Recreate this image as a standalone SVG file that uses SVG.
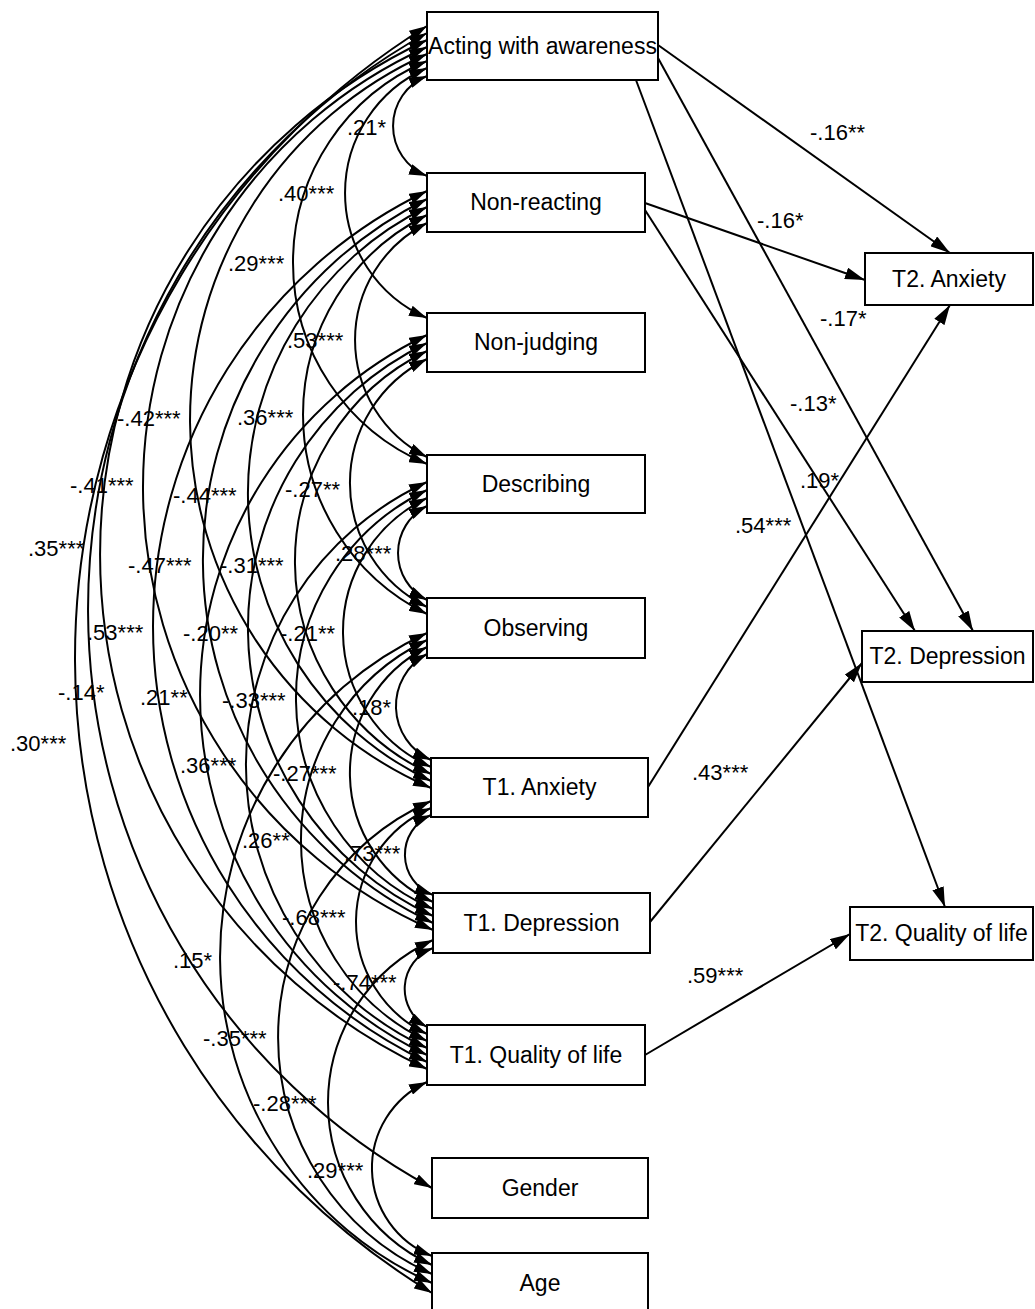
<svg xmlns="http://www.w3.org/2000/svg" width="1035" height="1309" viewBox="0 0 1035 1309">
<style>
.box{fill:#fff;stroke:#000;stroke-width:2}
.nt{font-family:"Liberation Sans",Arial,sans-serif;font-size:23px;text-anchor:middle;fill:#000}
.lb{font-family:"Liberation Sans",Arial,sans-serif;font-size:22px;fill:#000}
.c{fill:none;stroke:#000;stroke-width:2;marker-start:url(#ah);marker-end:url(#ah)}
.p{fill:none;stroke:#000;stroke-width:2;marker-end:url(#ap)}
</style>
<defs>
<marker id="ah" viewBox="0 0 18 11" refX="18" refY="5.5" markerWidth="18" markerHeight="11" markerUnits="userSpaceOnUse" orient="auto-start-reverse">
<path d="M0,0 L18,5.5 L0,11 z" fill="#000"/>
</marker>
<marker id="ap" viewBox="0 0 20 12" refX="20" refY="6" markerWidth="20" markerHeight="12" markerUnits="userSpaceOnUse" orient="auto">
<path d="M0,0 L20,6 L0,12 z" fill="#000"/>
</marker>
</defs>
<rect width="1035" height="1309" fill="#fff"/>
<g id="connectors">
<path class="c" d="M427 76 A53.8 53.8 0 0 0 427 176"/>
<path class="c" d="M427 68 A136.3 136.3 0 0 0 427 318"/>
<path class="c" d="M427 61 A218.5 218.5 0 0 0 427 464"/>
<path class="c" d="M427 54 A401.3 401.3 0 0 0 431 788"/>
<path class="c" d="M427 47 A483.1 483.1 0 0 0 433 930"/>
<path class="c" d="M427 40 A568.3 568.3 0 0 0 427 1069"/>
<path class="c" d="M427 33 A659.1 659.1 0 0 0 432 1188"/>
<path class="c" d="M427 26 A743.3 743.3 0 0 0 432 1293"/>
<path class="c" d="M427 223 A131.1 131.1 0 0 0 427 457"/>
<path class="c" d="M427 215 A222.5 222.5 0 0 0 427 614"/>
<path class="c" d="M427 207 A318 318 0 0 0 431 781"/>
<path class="c" d="M427 199 A402.1 402.1 0 0 0 433 923"/>
<path class="c" d="M427 191 A483.1 483.1 0 0 0 427 1062"/>
<path class="c" d="M427 359 A138.3 138.3 0 0 0 427 607"/>
<path class="c" d="M427 351 A233.9 233.9 0 0 0 431 774"/>
<path class="c" d="M427 343 A316.5 316.5 0 0 0 433 916"/>
<path class="c" d="M427 335 A399 399 0 0 0 427 1055"/>
<path class="c" d="M427 506 A52.6 52.6 0 0 0 427 600"/>
<path class="c" d="M427 498 A148.2 148.2 0 0 0 431 767"/>
<path class="c" d="M427 490 A230.8 230.8 0 0 0 433 909"/>
<path class="c" d="M427 482 A311.7 311.7 0 0 0 427 1048"/>
<path class="c" d="M427 654 A59.1 59.1 0 0 0 431 760"/>
<path class="c" d="M427 647 A141.6 141.6 0 0 0 433 902"/>
<path class="c" d="M427 640 A222.5 222.5 0 0 0 427 1041"/>
<path class="c" d="M427 633 A356.9 356.9 0 0 0 432 1283"/>
<path class="c" d="M431 815 A43.1 43.1 0 0 0 433 895"/>
<path class="c" d="M431 808 A124 124 0 0 0 427 1034"/>
<path class="c" d="M431 801 A259 259 0 0 0 432 1274"/>
<path class="c" d="M433 948 A43.7 43.7 0 0 0 427 1027"/>
<path class="c" d="M433 940 A178.6 178.6 0 0 0 432 1265"/>
<path class="c" d="M427 1082 A94.6 94.6 0 0 0 432 1256"/>
<path class="p" d="M658 45 L950 253"/>
<path class="p" d="M658 58 L973 631"/>
<path class="p" d="M636 80 L945 907"/>
<path class="p" d="M645 203 L865 280"/>
<path class="p" d="M645 210 L915 631"/>
<path class="p" d="M648 787 L950 305"/>
<path class="p" d="M650 922 L862 663"/>
<path class="p" d="M645 1055 L850 934"/>
</g>
<g id="labels">
<text class="lb" x="347" y="135">.21*</text>
<text class="lb" x="278" y="201">.40***</text>
<text class="lb" x="228" y="271">.29***</text>
<text class="lb" x="287" y="348">.53***</text>
<text class="lb" x="117" y="426">-.42***</text>
<text class="lb" x="237" y="425">.36***</text>
<text class="lb" x="70" y="493">-.41***</text>
<text class="lb" x="173" y="503">-.44***</text>
<text class="lb" x="285" y="497">-.27**</text>
<text class="lb" x="28" y="556">.35***</text>
<text class="lb" x="128" y="573">-.47***</text>
<text class="lb" x="220" y="573">-.31***</text>
<text class="lb" x="335" y="561">.28***</text>
<text class="lb" x="87" y="640">.53***</text>
<text class="lb" x="183" y="641">-.20**</text>
<text class="lb" x="280" y="641">-.21**</text>
<text class="lb" x="58" y="700">-.14*</text>
<text class="lb" x="140" y="705">.21**</text>
<text class="lb" x="222" y="708">-.33***</text>
<text class="lb" x="352" y="715">.18*</text>
<text class="lb" x="10" y="751">.30***</text>
<text class="lb" x="180" y="773">.36***</text>
<text class="lb" x="273" y="781">-.27***</text>
<text class="lb" x="242" y="848">.26**</text>
<text class="lb" x="344" y="861">.73***</text>
<text class="lb" x="282" y="925">-.68***</text>
<text class="lb" x="173" y="968">.15*</text>
<text class="lb" x="333" y="990">-.74***</text>
<text class="lb" x="203" y="1046">-.35***</text>
<text class="lb" x="253" y="1111">-.28***</text>
<text class="lb" x="307" y="1178">.29***</text>
<text class="lb" x="810" y="140">-.16**</text>
<text class="lb" x="757" y="228">-.16*</text>
<text class="lb" x="820" y="326">-.17*</text>
<text class="lb" x="790" y="411">-.13*</text>
<text class="lb" x="800" y="488">.19*</text>
<text class="lb" x="735" y="533">.54***</text>
<text class="lb" x="692" y="780">.43***</text>
<text class="lb" x="687" y="983">.59***</text>
</g>
<g id="n-awa"><rect class="box" x="427" y="12" width="231" height="68"/><text class="nt" x="542.5" y="54">Acting with awareness</text></g>
<g id="n-nr"><rect class="box" x="427" y="173" width="218" height="59"/><text class="nt" x="536" y="210">Non-reacting</text></g>
<g id="n-nj"><rect class="box" x="427" y="313" width="218" height="59"/><text class="nt" x="536" y="350">Non-judging</text></g>
<g id="n-desc"><rect class="box" x="427" y="455" width="218" height="58"/><text class="nt" x="536" y="492">Describing</text></g>
<g id="n-obs"><rect class="box" x="427" y="598" width="218" height="60"/><text class="nt" x="536" y="636">Observing</text></g>
<g id="n-t1a"><rect class="box" x="431" y="758" width="217" height="59"/><text class="nt" x="539.5" y="795">T1. Anxiety</text></g>
<g id="n-t1d"><rect class="box" x="433" y="893" width="217" height="60"/><text class="nt" x="541.5" y="931">T1. Depression</text></g>
<g id="n-t1q"><rect class="box" x="427" y="1025" width="218" height="60"/><text class="nt" x="536" y="1063">T1. Quality of life</text></g>
<g id="n-gender"><rect class="box" x="432" y="1158" width="216" height="60"/><text class="nt" x="540" y="1196">Gender</text></g>
<g id="n-age"><rect class="box" x="432" y="1253" width="216" height="62"/><text class="nt" x="540" y="1291">Age</text></g>
<g id="n-t2a"><rect class="box" x="865" y="253" width="168" height="52"/><text class="nt" x="949" y="287">T2. Anxiety</text></g>
<g id="n-t2d"><rect class="box" x="862" y="631" width="171" height="51"/><text class="nt" x="947.5" y="664">T2. Depression</text></g>
<g id="n-t2q"><rect class="box" x="850" y="907" width="183" height="53"/><text class="nt" x="941.5" y="941">T2. Quality of life</text></g>
</svg>
